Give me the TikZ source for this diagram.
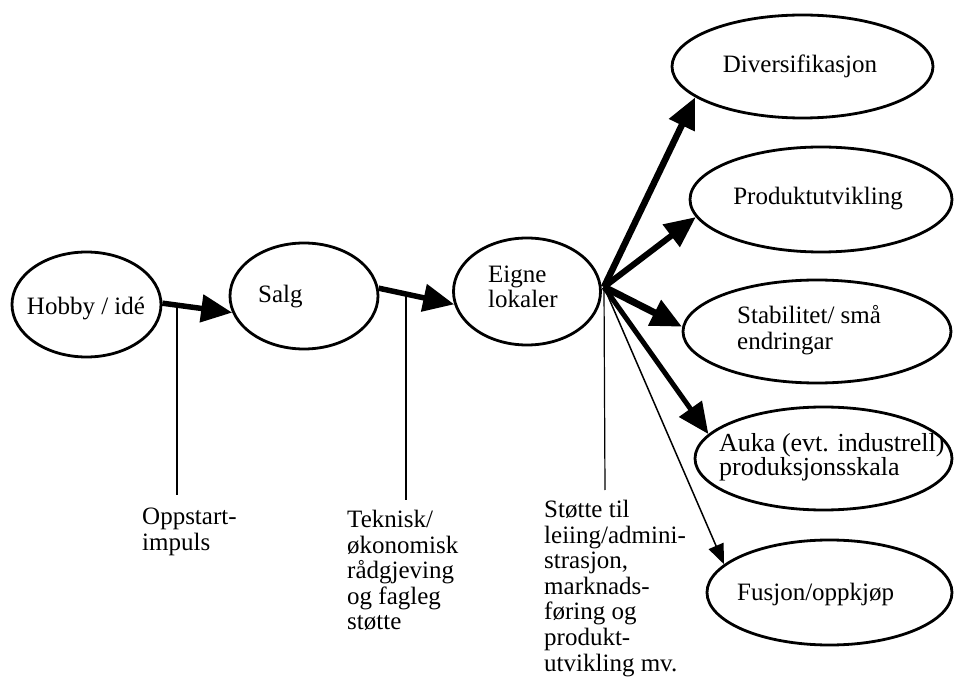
\documentclass[tikz,border=0pt]{standalone}
\usepackage{fontspec}
\setmainfont{Liberation Serif}
\usetikzlibrary{shapes.geometric,arrows.meta}
\begin{document}
\begin{tikzpicture}[x=1pt,y=-1pt,
  bub/.style={draw, ellipse, line width=2.8pt, inner sep=0pt},
  txt/.style={inner sep=0pt, font=\fontsize{25}{25.5}\selectfont, align=left},
  thick arrow/.style={line width=#1, -{Triangle[length=31pt,width=27pt]}},
  thin arrow/.style={line width=1.5pt, -{Triangle[length=20pt,width=16pt]}},
  leader/.style={line width=1.2pt}]
\useasboundingbox (0,0) rectangle (954,679);
% ellipses
\node[bub, minimum width=149pt, minimum height=105pt] (hobby) at (86.5,304.5) {};
\node[bub, minimum width=148pt, minimum height=106pt] (salg) at (304,296) {};
\node[bub, minimum width=147pt, minimum height=107pt] (eigne) at (527,291.5) {};
\node[bub, minimum width=261pt, minimum height=103pt] (div) at (802.5,66.5) {};
\node[bub, minimum width=262pt, minimum height=105pt] (prod) at (821,199.5) {};
\node[bub, minimum width=268pt, minimum height=103pt] (stab) at (817,331.5) {};
\node[bub, minimum width=257pt, minimum height=103pt] (auka) at (823.5,458.5) {};
\node[bub, minimum width=245pt, minimum height=105pt] (fus) at (829.5,592.5) {};
% texts in ellipses
\node[txt, anchor=base] (thobby) at (86,315) {Hobby / idé};
\node[txt, anchor=base west] (tsalg) at (258,303) {Salg};
\node[txt, anchor=north west, font=\fontsize{25}{24.5}\selectfont] (teigne) at (488,266) {Eigne\\lokaler};
\node[txt, anchor=base] (tdiv) at (800,73) {Diversifikasjon};
\node[txt, anchor=base] (tprod) at (818,205) {Produktutvikling};
\node[txt, anchor=north west, font=\fontsize{25}{26}\selectfont] (tstab) at (737,305) {Stabilitet/ små\\endringar};
\node[txt, anchor=north west, font=\fontsize{26}{22}\selectfont] (tauka) at (719,433) {Auka (evt. industrell)\\produksjonsskala};
\node[txt, anchor=base west] (tfus) at (737,600) {Fusjon/oppkjøp};
% lower labels
\node[txt, anchor=north west, font=\fontsize{25}{26}\selectfont] (topp) at (142,508) {Oppstart-\\impuls};
\node[txt, anchor=north west] (ttek) at (347,510) {Teknisk/\\økonomisk\\rådgjeving\\og fagleg\\støtte};
\node[txt, anchor=north west, font=\fontsize{25}{25.6}\selectfont] (tstotte) at (544,500) {Støtte til\\leiing/admini-\\strasjon,\\marknads-\\føring og\\produkt-\\utvikling mv.};
% main chain arrows
\draw[thick arrow=5.5pt] (hobby.1) -- (salg.193);
\draw[thick arrow=5.5pt] (salg.6) -- (eigne.190);
% hub
\coordinate (hub) at (604,287);
\draw[thick arrow=6.5pt] (hub) -- (div.196);
\draw[thick arrow=6pt] (hub) -- (prod.188);
\draw[thick arrow=7pt] (hub) -- (stab.178);
\draw[thick arrow=5pt] (hub) -- (auka.168);
\draw[thin arrow] (hub) -- (fus.165);
% leader lines
\coordinate (a1) at (177,305.5);
\coordinate (b1) at (177,495);
\coordinate (a2) at (406,292.5);
\coordinate (b2) at (406,500);
\coordinate (b3) at (605,490);
\draw[leader] (a1) -- (b1);
\draw[leader] (a2) -- (b2);
\draw[leader] (hub) -- (b3);
\end{tikzpicture}
\end{document}
